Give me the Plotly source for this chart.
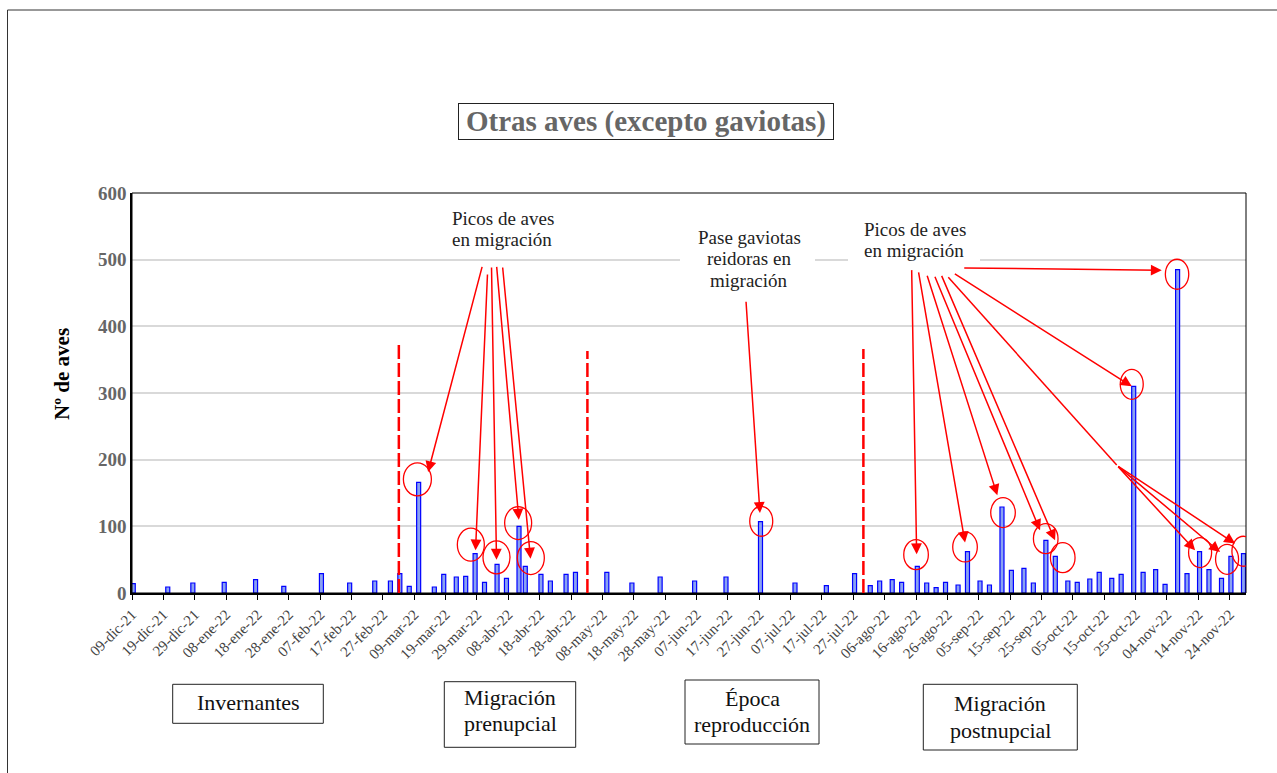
import plotly.graph_objects as go
import pandas as pd

FONT = "Liberation Serif"

# ---------------- data ----------------
dates = ["2021-12-09", "2021-12-20", "2021-12-28", "2022-01-07", "2022-01-17", "2022-01-26",
         "2022-02-07", "2022-02-16", "2022-02-24", "2022-03-01", "2022-03-04", "2022-03-07",
         "2022-03-10", "2022-03-15", "2022-03-18", "2022-03-22", "2022-03-25", "2022-03-28",
         "2022-03-31", "2022-04-04", "2022-04-07", "2022-04-11", "2022-04-13", "2022-04-18",
         "2022-04-21", "2022-04-26", "2022-04-29", "2022-05-09", "2022-05-17", "2022-05-26",
         "2022-06-06", "2022-06-16", "2022-06-27", "2022-07-08", "2022-07-18", "2022-07-27",
         "2022-08-01", "2022-08-04", "2022-08-08", "2022-08-11", "2022-08-16", "2022-08-19",
         "2022-08-22", "2022-08-25", "2022-08-29", "2022-09-01", "2022-09-05", "2022-09-08",
         "2022-09-12", "2022-09-15", "2022-09-19", "2022-09-22", "2022-09-26", "2022-09-29",
         "2022-10-03", "2022-10-06", "2022-10-10", "2022-10-13", "2022-10-17", "2022-10-20",
         "2022-10-24", "2022-10-27", "2022-10-31", "2022-11-03", "2022-11-07", "2022-11-10",
         "2022-11-14", "2022-11-17", "2022-11-21", "2022-11-24", "2022-11-28"]
values = [14, 9, 15, 16, 20, 10, 29, 15, 18, 18, 29, 10, 166, 9, 28, 24, 25, 59, 16, 43,
          22, 100, 40, 28, 18, 28, 31, 31, 15, 24, 18, 24, 107, 15, 11, 29, 11, 18, 20, 16,
          40, 15, 8, 16, 12, 62, 18, 12, 129, 34, 37, 15, 79, 55, 18, 16, 21, 31, 22, 28,
          310, 31, 35, 13, 485, 29, 62, 35, 22, 55, 59]

tick_start = "2021-12-09"
tick_labels = ["09-dic-21", "19-dic-21", "29-dic-21", "08-ene-22", "18-ene-22", "28-ene-22",
               "07-feb-22", "17-feb-22", "27-feb-22", "09-mar-22", "19-mar-22", "29-mar-22",
               "08-abr-22", "18-abr-22", "28-abr-22", "08-may-22", "18-may-22", "28-may-22",
               "07-jun-22", "17-jun-22", "27-jun-22", "07-jul-22", "17-jul-22", "27-jul-22",
               "06-ago-22", "16-ago-22", "26-ago-22", "05-sep-22", "15-sep-22", "25-sep-22",
               "05-oct-22", "15-oct-22", "25-oct-22", "04-nov-22", "14-nov-22", "24-nov-22"]
y_ticks = [0, 100, 200, 300, 400, 500, 600]

title_text = "Otras aves (excepto gaviotas)"
y_title = "Nº de aves"

# period separators (date, top value)
separator_dates = ["2022-03-04 02:00", "2022-05-03 05:00", "2022-07-30 05:00"]
separator_tops = [373, 363, 366]

# highlighted peaks: (date, dx px, dy px, rx px, ry px)
circles = [("2022-03-10", 0, 3, 14, 16.5), ("2022-03-28", -3, 9, 13.5, 16.5),
           ("2022-04-04", 0.7, 7, 13.5, 16.5), ("2022-04-11", 0.4, 3.3, 13.5, 16.5),
           ("2022-04-13", 6.8, 8.3, 13.5, 16.5), ("2022-06-27", 2, 0.4, 11.5, 15),
           ("2022-08-16", 0, 11.7, 12.3, 15), ("2022-09-01", -1.2, 4.7, 12.3, 15),
           ("2022-09-12", 2.3, -5.6, 12.3, 15), ("2022-09-26", 1.1, 1.7, 12.3, 15),
           ("2022-09-29", 8.7, -1.3, 12.3, 15), ("2022-10-24", -0.7, 2, 11.5, 15),
           ("2022-11-07", 0.7, -4.6, 11.7, 15), ("2022-11-14", 1.8, -0.9, 11.5, 15),
           ("2022-11-24", -2.6, -3, 11.5, 15), ("2022-11-28", 1.2, 2.4, 11.5, 15)]

# arrows to peaks: (date, xshift, yshift, ax, ay)
arrows = [("2022-03-10", 10.7, 10.3, 54.4, -206.7), ("2022-03-28", 1.7, 3.4, 12, -277.3),
          ("2022-04-04", 0.7, 4.7, -5, -293.6), ("2022-04-11", 1.1, 6.7, -22.3, -254.3),
          ("2022-04-13", 6.5, 7.7, -28, -292.6), ("2022-06-27", 0.7, 8.7, -14, -212.7),
          ("2022-08-16", 0.6, 12, -5, -285.7), ("2022-09-01", -1.2, 9.1, -46.7, -271.6),
          ("2022-09-12", -3.4, 11.7, -70.6, -221), ("2022-09-26", -4.6, 10, -105.7, -255),
          ("2022-09-29", 1, 16, -114, -266), ("2022-10-24", -0.7, 0, -178.4, -113.3),
          ("2022-11-07", -14.6, -0.6, -199, -2.3), ("2022-11-14", -3.2, 1.4, -78.3, -85),
          ("2022-11-24", -9.6, 4.3, -103.3, -86.7), ("2022-11-28", -7.1, 10.1, -118.3, -78.3)]

# ---------------- geometry helpers (layout decorations) ----------------
W, H = 1277, 773
L, R, T, B = 132, 31, 193, 180
PW, PH = W - L - R, H - T - B
BOTTOM = H - B


def px_x(px):
    return (px - L) / PW


def px_y(py):
    return (BOTTOM - py) / PH


DAY = 86400000
val_of = dict(zip(dates, values))
tick_vals = pd.date_range(tick_start, periods=len(tick_labels), freq="10D")

fig = go.Figure()
fig.add_trace(go.Bar(
    x=dates, y=values, width=1.28 * DAY, offset=-0.24 * DAY,
    marker=dict(color="#8aa2f2", line=dict(color="#0000ff", width=1.2)),
    hoverinfo="x+y"))

shapes = []
annotations = []

# outer frame
shapes.append(dict(type="rect", xref="paper", yref="paper",
                   x0=px_x(7.5), x1=px_x(1300), y0=px_y(800), y1=px_y(10),
                   line=dict(color="#333333", width=1), layer="below"))
# plot area border
shapes.append(dict(type="rect", xref="paper", yref="paper", x0=0, x1=1, y0=0, y1=1,
                   line=dict(color="black", width=1), layer="above"))

# separators
for d, top in zip(separator_dates, separator_tops):
    shapes.append(dict(type="line", xref="x", yref="y", x0=d, x1=d, y0=0, y1=top,
                       line=dict(color="#ff0000", width=2.5, dash="14px,4px"), layer="above"))

# circles
for d, dx, dy, rx, ry in circles:
    shapes.append(dict(type="circle", xref="x", yref="y", xsizemode="pixel", ysizemode="pixel",
                       xanchor=d, yanchor=val_of[d], x0=dx - rx, x1=dx + rx,
                       y0=dy - ry, y1=dy + ry, line=dict(color="#ff0000", width=1.3),
                       layer="above"))

# white patches behind annotation texts (cover gridline)
for x0, x1, y0, y1 in [(680, 815, 225, 292), (848, 980, 215, 262)]:
    shapes.append(dict(type="rect", xref="paper", yref="paper", x0=px_x(x0), x1=px_x(x1),
                       y0=px_y(y1), y1=px_y(y0), fillcolor="white", line=dict(width=0),
                       layer="above"))

# junction segment for the last three arrows
shapes.append(dict(type="line", xref="paper", yref="paper", x0=px_x(948.3), y0=px_y(277.3),
                   x1=px_x(1116.7), y1=px_y(465), line=dict(color="#ff0000", width=1.5),
                   layer="above"))

# arrows
for d, xs, ys, ax, ay in arrows:
    annotations.append(dict(x=d, y=val_of[d], xref="x", yref="y", text="", showarrow=True,
                            arrowhead=2, arrowsize=1.45, arrowwidth=1.5, arrowcolor="#ff0000",
                            ax=ax, ay=ay, xshift=xs, yshift=ys, standoff=0))

# annotation texts (one line each)
text_lines = [
    (["Picos de aves", "en migración"], 450, 218, 21.5, "left"),
    (["Pase gaviotas", "reidoras en", "migración"], 749, 237, 21.5, "center"),
    (["Picos de aves", "en migración"], 861.7, 229, 21.5, "left"),
]


def add_lines(lines, x, y, step, anchor, size, color):
    for i, line in enumerate(lines):
        annotations.append(dict(x=px_x(x), y=px_y(y + i * step), xref="paper", yref="paper",
                                text=line, showarrow=False, xanchor=anchor, yanchor="middle",
                                font=dict(family=FONT, size=size, color=color)))


for lines, x, y, step, anchor in text_lines:
    add_lines(lines, x, y, step, anchor, 19, "#222222")

# title box
annotations.append(dict(x=px_x(645.8), y=px_y(121.2), xref="paper", yref="paper",
                        text="<b>" + title_text + "</b>", showarrow=False, xanchor="center",
                        yanchor="middle", width=372, height=33, borderpad=1,
                        bordercolor="#222222", borderwidth=1, bgcolor="white",
                        font=dict(family=FONT, size=29, color="#666666")))

# period boxes: (lines, x0, x1, y0, y1, first line center y)
boxes = [(["Invernantes"], 172.7, 323.3, 684.3, 723.3, 702),
         (["Migración", "prenupcial"], 444.3, 575.7, 681.7, 747.3, 697),
         (["Época", "reproducción"], 685, 819, 680, 744, 698),
         (["Migración", "postnupcial"], 923.3, 1077.3, 684.3, 750, 703.5)]
for lines, x0, x1, y0, y1, ly in boxes:
    shapes.append(dict(type="rect", xref="paper", yref="paper", x0=px_x(x0), x1=px_x(x1),
                       y0=px_y(y1), y1=px_y(y0), line=dict(color="#222222", width=1),
                       fillcolor="white", layer="above"))
    add_lines(lines, (x0 + x1) / 2, ly, 26.5, "center", 22, "#111111")

# y axis title
annotations.append(dict(x=px_x(62), y=px_y(374), xref="paper", yref="paper",
                        text="<b>" + y_title + "</b>",
                        showarrow=False, textangle=-90, xanchor="center", yanchor="middle",
                        font=dict(family=FONT, size=21, color="black")))

fig.update_layout(
    width=W, height=H, margin=dict(l=L, r=R, t=T, b=B, autoexpand=False),
    paper_bgcolor="white", plot_bgcolor="white", showlegend=False,
    font=dict(family=FONT), shapes=shapes, annotations=annotations)

fig.update_xaxes(type="date", range=["2021-12-09", "2022-11-29 05:00"],
                 tickvals=tick_vals, ticktext=tick_labels, tickangle=-45,
                 tickfont=dict(family=FONT, size=15, color="#444444"),
                 ticks="outside", ticklen=5, tickcolor="black", tickwidth=1,
                 showline=True, linecolor="black", linewidth=2, showgrid=False,
                 zeroline=False)
fig.update_yaxes(range=[0, 600], tickvals=y_ticks,
                 ticktext=["<b>%d</b>" % v for v in y_ticks],
                 tickfont=dict(family=FONT, size=19, color="#666666"),
                 showgrid=True, gridcolor="#d9d9d9", gridwidth=1.5,
                 showline=True, linecolor="black", linewidth=1.5, ticks="",
                 zeroline=False)

fig.write_html("out.html", config={"displayModeBar": False},
               post_script="document.body.style.margin='0';document.body.style.overflow='hidden';")
